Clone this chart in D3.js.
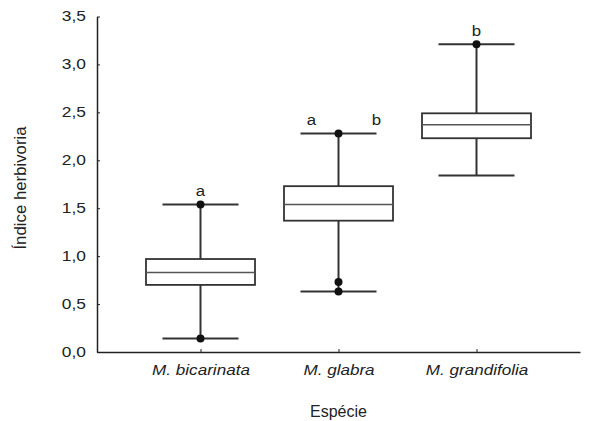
<!DOCTYPE html>
<html>
<head>
<meta charset="utf-8">
<script src="https://cdn.jsdelivr.net/npm/d3@7"></script>
<style>
  body { margin: 0; background: #fff; }
  text { font-family: "Liberation Sans", Arial, sans-serif; fill: #222; }
</style>
</head>
<body>
<div id="chart"></div>
<script>
// values
const species = ["M. bicarinata", "M. glabra", "M. grandifolia"];
const whiskerLow = [0.14, 0.63, 1.84];
const q1 = [0.70, 1.37, 2.23];
const median = [0.83, 1.54, 2.37];
const q3 = [0.97, 1.73, 2.49];
const whiskerHigh = [1.54, 2.28, 3.21];
const dots = [
  {sp: "M. bicarinata", v: 1.54}, {sp: "M. bicarinata", v: 0.14},
  {sp: "M. glabra", v: 2.28}, {sp: "M. glabra", v: 0.73}, {sp: "M. glabra", v: 0.63},
  {sp: "M. grandifolia", v: 3.21}
];
const letters = [["a"], ["a", "b"], ["b"]];
const yTicks = [0, 0.5, 1, 1.5, 2, 2.5, 3, 3.5];

var width = 613, height = 421;
var svg = d3.select("#chart").append("svg").attr("width", width).attr("height", height);

var x = d3.scalePoint().domain(species).range([97, 580]).padding(0.75);
var y = d3.scaleLinear().domain([0, 3.5]).range([352, 16.5]);
var fmt = function(d) { return d3.format(".1f")(d).replace(".", ","); };

// the text in the original is a bit wider than it is tall
function stretch(sel, k) {
  sel.each(function() {
    var w = this.getComputedTextLength();
    d3.select(this).attr("textLength", w * k).attr("lengthAdjust", "spacingAndGlyphs");
  });
}

// axes
var yAxis = svg.append("g").attr("transform", "translate(97,0)")
    .call(d3.axisLeft(y).tickValues(yTicks).tickFormat(fmt).tickSizeInner(-3).tickSizeOuter(0).tickPadding(11));
yAxis.select(".domain").attr("stroke", "#222").attr("stroke-width", 1.5);
yAxis.selectAll(".tick line").attr("stroke", "#222");
yAxis.selectAll(".tick text").attr("font-size", 14).attr("fill", "#222")
    .style("font-family", "Liberation Sans, Arial, sans-serif").call(stretch, 1.24);

var xAxis = svg.append("g").attr("transform", "translate(0,352)")
    .call(d3.axisBottom(x).tickSizeInner(-3).tickSizeOuter(0).tickPadding(13));
xAxis.select(".domain").attr("stroke", "#222").attr("stroke-width", 1.5);
xAxis.selectAll(".tick line").attr("stroke", "#222");
xAxis.selectAll(".tick text").attr("font-size", 14).attr("font-style", "italic").attr("fill", "#222")
    .style("font-family", "Liberation Sans, Arial, sans-serif").call(stretch, 1.22);

// boxes
var boxW = 109, capW = 76;
var g = svg.append("g").selectAll("g").data(species).enter().append("g");

g.append("line").attr("x1", d => x(d)).attr("x2", d => x(d))
    .attr("y1", (d, i) => y(whiskerHigh[i])).attr("y2", (d, i) => y(q3[i]))
    .attr("stroke", "#333").attr("stroke-width", 2);
g.append("line").attr("x1", d => x(d)).attr("x2", d => x(d))
    .attr("y1", (d, i) => y(q1[i])).attr("y2", (d, i) => y(whiskerLow[i]))
    .attr("stroke", "#333").attr("stroke-width", 2);
g.append("line").attr("x1", d => x(d) - capW / 2).attr("x2", d => x(d) + capW / 2)
    .attr("y1", (d, i) => y(whiskerHigh[i])).attr("y2", (d, i) => y(whiskerHigh[i]))
    .attr("stroke", "#333").attr("stroke-width", 2);
g.append("line").attr("x1", d => x(d) - capW / 2).attr("x2", d => x(d) + capW / 2)
    .attr("y1", (d, i) => y(whiskerLow[i])).attr("y2", (d, i) => y(whiskerLow[i]))
    .attr("stroke", "#333").attr("stroke-width", 2);
g.append("rect").attr("x", d => x(d) - boxW / 2).attr("width", boxW)
    .attr("y", (d, i) => y(q3[i])).attr("height", (d, i) => y(q1[i]) - y(q3[i]))
    .attr("fill", "#fff").attr("stroke", "#333").attr("stroke-width", 1.8);
g.append("line").attr("x1", d => x(d) - boxW / 2).attr("x2", d => x(d) + boxW / 2)
    .attr("y1", (d, i) => y(median[i])).attr("y2", (d, i) => y(median[i]))
    .attr("stroke", "#555").attr("stroke-width", 1.5);

// dots
svg.append("g").selectAll("circle").data(dots).enter().append("circle")
    .attr("cx", d => x(d.sp)).attr("cy", d => y(d.v)).attr("r", 4).attr("fill", "#111");

// significance letters
species.forEach(function(sp, i) {
  var ls = letters[i];
  ls.forEach(function(l, j) {
    var dx = ls.length === 1 ? 0 : (j === 0 ? -27 : 38);
    svg.append("text").attr("x", x(sp) + dx).attr("y", y(whiskerHigh[i]) - 8)
      .attr("text-anchor", "middle").attr("font-size", 14).text(l).call(stretch, 1.2);
  });
});

// axis titles
svg.append("text").attr("x", x("M. glabra")).attr("y", 417)
    .attr("text-anchor", "middle").attr("font-size", 16).text("Espécie");
svg.append("text").attr("transform", "translate(26,188) rotate(-90)")
    .attr("text-anchor", "middle").attr("font-size", 16.8).text("Índice herbivoria");
</script>
</body>
</html>
